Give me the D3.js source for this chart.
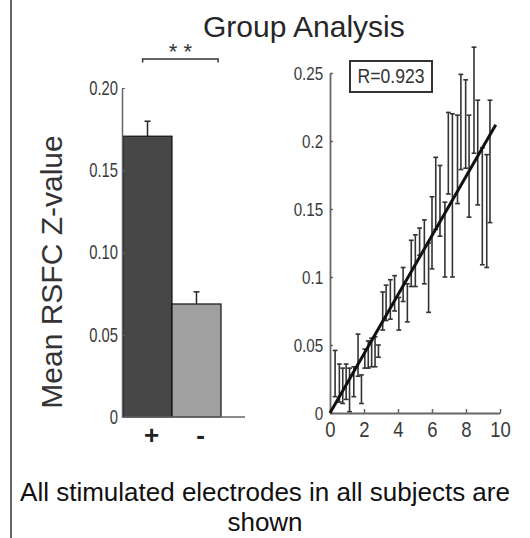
<!DOCTYPE html>
<html>
<head>
<meta charset="utf-8">
<script src="https://cdn.jsdelivr.net/npm/d3@7"></script>
<style>
  body { margin: 0; background: #fff; }
  svg { display: block; font-family: "Liberation Sans", Arial, sans-serif; }
</style>
</head>
<body>
<svg id="chart" width="530" height="538"></svg>
<script>
// bar panel
const groups = ["+", "-"];
const groupMeans = [0.1707, 0.0687];
const groupErr = [0.0091, 0.0074];
const barTicks = [0, 0.05, 0.10, 0.15, 0.20];

// scatter panel: electrode x, error bar low / high
const elecX = [0.3, 0.55, 0.75, 0.95, 1.15, 1.4, 1.65, 1.85, 2.05, 2.25, 2.45, 2.65, 2.85,
  3.1, 3.3, 3.55, 3.8, 4.05, 4.3, 4.55, 4.78, 5.02, 5.27, 5.55, 5.8, 6.0, 6.22, 6.47,
  6.76, 6.96, 7.2, 7.5, 7.7, 7.98, 8.18, 8.47, 8.69, 8.96, 9.22, 9.41];
const elecLo = [0.012, 0.008, 0.007, 0.01, 0.001, 0.012, 0.027, 0.007, 0.033, 0.033, 0.034, 0.034, 0.041,
  0.061, 0.068, 0.069, 0.075, 0.061, 0.082, 0.067, 0.093, 0.093, 0.116, 0.095, 0.074, 0.106, 0.135, 0.13,
  0.1, 0.161, 0.1, 0.154, 0.179, 0.18, 0.144, 0.191, 0.153, 0.109, 0.107, 0.14];
const elecHi = [0.046, 0.036, 0.033, 0.036, 0.033, 0.034, 0.058, 0.028, 0.047, 0.053, 0.055, 0.056, 0.05,
  0.089, 0.094, 0.098, 0.101, 0.085, 0.107, 0.095, 0.127, 0.131, 0.136, 0.142, 0.125, 0.159, 0.188, 0.182,
  0.155, 0.221, 0.22, 0.219, 0.249, 0.245, 0.219, 0.269, 0.23, 0.195, 0.19, 0.23];
const fitX = [0, 9.75];
const fitY = [0, 0.212];
const scatterXTicks = [0, 2, 4, 6, 8, 10];
const scatterYTicks = [0, 0.05, 0.1, 0.15, 0.2, 0.25];
const rValue = "R=0.923";

const svg = d3.select("#chart");
const ink = "#262626";
const axisInk = "#666";

// left frame line
svg.append("line")
  .attr("x1", 11).attr("x2", 11).attr("y1", 0).attr("y2", 538)
  .attr("stroke", "#333").attr("stroke-width", 1.5);

svg.append("text")
  .attr("x", 203).attr("y", 37)
  .attr("font-size", 30).attr("fill", ink)
  .text("Group Analysis");

// ---------- bar panel ----------
const bx = d3.scaleBand().domain(groups).range([123, 221]).padding(0);
const by = d3.scaleLinear().domain([0, 0.2]).range([417, 88]);
const barFill = ["#474747", "#a0a0a0"];

const bars = svg.append("g")
  .selectAll("g")
  .data(groups)
  .enter()
  .append("g");

bars.append("line")
  .attr("x1", (d) => bx(d) + bx.bandwidth() / 2)
  .attr("x2", (d) => bx(d) + bx.bandwidth() / 2)
  .attr("y1", (d, i) => by(groupMeans[i]))
  .attr("y2", (d, i) => by(groupMeans[i] + groupErr[i]))
  .attr("stroke", ink).attr("stroke-width", 1.5);

bars.append("line")
  .attr("x1", (d) => bx(d) + bx.bandwidth() / 2 - 3)
  .attr("x2", (d) => bx(d) + bx.bandwidth() / 2 + 3)
  .attr("y1", (d, i) => by(groupMeans[i] + groupErr[i]))
  .attr("y2", (d, i) => by(groupMeans[i] + groupErr[i]))
  .attr("stroke", ink).attr("stroke-width", 1.5);

bars.append("rect")
  .attr("x", (d) => bx(d))
  .attr("width", bx.bandwidth())
  .attr("y", (d, i) => by(groupMeans[i]))
  .attr("height", (d, i) => by(0) - by(groupMeans[i]))
  .attr("fill", (d, i) => barFill[i])
  .attr("stroke", "#111").attr("stroke-width", 1.2);

const barAxis = svg.append("g")
  .attr("transform", "translate(122,0)")
  .call(d3.axisLeft(by).tickValues(barTicks).tickSize(-3).tickSizeOuter(0).tickPadding(4)
    .tickFormat((d) => (d === 0 ? "0" : d3.format(".2f")(d))));
barAxis.select(".domain").attr("stroke", axisInk).attr("stroke-width", 1.5);
barAxis.selectAll(".tick line").attr("stroke", axisInk);
barAxis.selectAll(".tick text")
  .attr("font-size", 20).attr("fill", "#3a3a3a")
  .attr("x", -5.5).attr("transform", "scale(0.74,1)");

svg.append("line")
  .attr("x1", 122).attr("x2", 245).attr("y1", by(0)).attr("y2", by(0))
  .attr("stroke", axisInk).attr("stroke-width", 1.5);

svg.append("g")
  .selectAll("text")
  .data(groups)
  .enter()
  .append("text")
  .attr("x", (d) => bx(d) + bx.bandwidth() / 2 + 4)
  .attr("y", 444)
  .attr("text-anchor", "middle")
  .attr("font-size", 26).attr("font-weight", "bold").attr("fill", "#222")
  .text((d) => d);

// significance bracket
const bl = bx("+") + bx.bandwidth() * 0.4;
const br = bx("-") + bx.bandwidth() * 0.94;
svg.append("path")
  .attr("d", `M${bl},62.5V59H${br}V62.5`)
  .attr("fill", "none").attr("stroke", "#333").attr("stroke-width", 1.5);
svg.append("text")
  .attr("x", (bl + br) / 2).attr("y", 59)
  .attr("text-anchor", "middle")
  .attr("font-size", 22).attr("fill", "#333")
  .text("* *");

svg.append("text")
  .attr("transform", "translate(62,272) rotate(-90)")
  .attr("text-anchor", "middle")
  .attr("font-size", 30).attr("fill", "#333")
  .text("Mean RSFC Z-value");

// ---------- scatter panel ----------
const sx = d3.scaleLinear().domain([0, 10]).range([330, 500]);
const sy = d3.scaleLinear().domain([0, 0.25]).range([413, 73]);

const xAx = svg.append("g")
  .attr("transform", `translate(0,${sy(0)})`)
  .call(d3.axisBottom(sx).tickValues(scatterXTicks).tickSize(-4).tickSizeOuter(0).tickPadding(8));
xAx.select(".domain").attr("stroke", axisInk).attr("stroke-width", 1.8);
xAx.selectAll(".tick line").attr("stroke", axisInk).attr("stroke-width", 1.5);
xAx.selectAll(".tick text")
  .attr("font-size", 22).attr("fill", "#3a3a3a")
  .attr("dy", "0.71em")
  .attr("transform", "scale(0.84,1)");

const yAx = svg.append("g")
  .attr("transform", `translate(${sx(0)},0)`)
  .call(d3.axisLeft(sy).tickValues(scatterYTicks).tickSize(-3).tickSizeOuter(0).tickPadding(7)
    .tickFormat(d3.format("~g")));
yAx.select(".domain").attr("stroke", axisInk).attr("stroke-width", 1.8);
yAx.selectAll(".tick line").attr("stroke", axisInk).attr("stroke-width", 1.5);
yAx.selectAll(".tick text")
  .attr("font-size", 19).attr("fill", "#3a3a3a")
  .attr("x", -8.5).attr("transform", "scale(0.8,1)");

const errs = svg.append("g")
  .selectAll("g")
  .data(elecX)
  .enter()
  .append("g")
  .attr("stroke", "#333").attr("stroke-width", 1.6);

errs.append("line")
  .attr("x1", (d) => sx(d)).attr("x2", (d) => sx(d))
  .attr("y1", (d, i) => sy(elecLo[i])).attr("y2", (d, i) => sy(elecHi[i]));
errs.append("line")
  .attr("x1", (d) => sx(d) - 2.4).attr("x2", (d) => sx(d) + 2.4)
  .attr("y1", (d, i) => sy(elecLo[i])).attr("y2", (d, i) => sy(elecLo[i]));
errs.append("line")
  .attr("x1", (d) => sx(d) - 2.4).attr("x2", (d) => sx(d) + 2.4)
  .attr("y1", (d, i) => sy(elecHi[i])).attr("y2", (d, i) => sy(elecHi[i]));

svg.append("path")
  .datum(fitX.map((d, i) => [d, fitY[i]]))
  .attr("d", d3.line().x((d) => sx(d[0])).y((d) => sy(d[1])))
  .attr("fill", "none").attr("stroke", "#111").attr("stroke-width", 3);

svg.append("rect")
  .attr("x", 350).attr("y", 61).attr("width", 82).attr("height", 31)
  .attr("fill", "#fff").attr("stroke", "#333").attr("stroke-width", 2);
svg.append("text")
  .attr("transform", "translate(391,83) scale(0.88,1)")
  .attr("text-anchor", "middle")
  .attr("font-size", 20).attr("fill", "#333")
  .text(rValue);

// caption
svg.append("text")
  .attr("x", 265).attr("y", 501)
  .attr("text-anchor", "middle")
  .attr("font-size", 26).attr("fill", "#111")
  .text("All stimulated electrodes in all subjects are");
svg.append("text")
  .attr("x", 265).attr("y", 531)
  .attr("text-anchor", "middle")
  .attr("font-size", 26).attr("fill", "#111")
  .text("shown");
</script>
</body>
</html>
